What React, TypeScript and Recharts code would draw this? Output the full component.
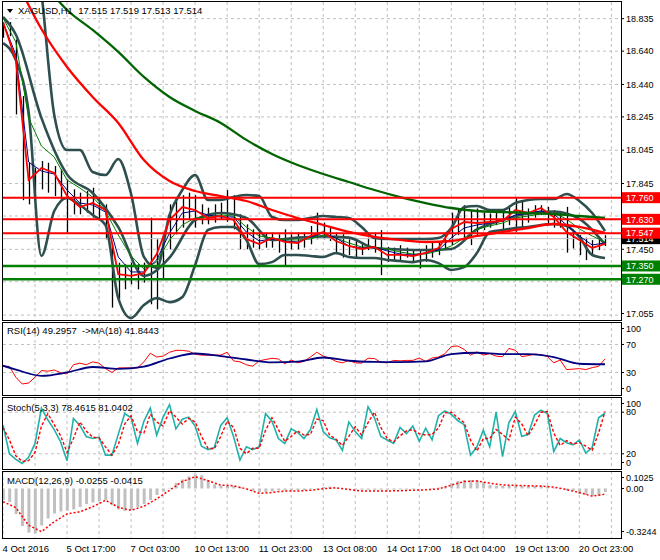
import React from 'react';
import { ComposedChart, Line, Bar, XAxis, YAxis, CartesianGrid, ReferenceLine } from 'recharts';

const FONT = '"Liberation Sans", Arial, sans-serif';

// ---------- texts ----------
const symbolTitle = 'XAGUSD,H1  17.515 17.519 17.513 17.514';
const rsiTitle = 'RSI(14) 49.2957  ->MA(18) 41.8443';
const stochTitle = 'Stoch(5,3,3) 78.4615 81.0402';
const macdTitle = 'MACD(12,26,9) -0.0255 -0.0415';
const dateLabels = ['4 Oct 2016', '5 Oct 17:00', '7 Oct 03:00', '10 Oct 13:00', '11 Oct 23:00', '13 Oct 08:00', '14 Oct 17:00', '18 Oct 04:00', '19 Oct 13:00', '20 Oct 23:00'];

// ---------- axis ticks ----------
const gridTicks = [0, 5, 10, 15, 20, 25, 30, 35, 40, 45, 50, 55, 60, 65, 70, 75, 80, 85, 90, 95];
const priceTicks = [17.055, 17.255, 17.45, 17.65, 17.845, 18.045, 18.245, 18.44, 18.64, 18.835];
const hiddenPriceTicks = [17.255, 17.65];
const rsiTicks = [30, 70];
const rsiEdgeTicks = [0, 100];
const rsiGrid = [30, 70];
const stochTicks = [0, 20, 80, 100];
const stochGrid = [20, 80];
const macdTicks = [-0.3244, 0, 0.1025];

// ---------- levels ----------
const resistance = [17.76, 17.63, 17.547];
const support = [17.35, 17.27];
const lastPrice = 17.514;

// ---------- price bars (one bar per slot) ----------
const highs = [
  18.815, 18.815, 18.71, 18.37, 17.97, 17.94, 17.98, 17.97, 17.95, 17.93,
  17.87, 17.81, 17.79, 17.8, 17.82, 17.76, 17.72, 17.48, 17.37, 17.36,
  17.37, 17.36, 17.37, 17.64, 17.51, 17.54, 17.72, 17.76, 17.775, 17.79,
  17.775, 17.72, 17.7, 17.72, 17.73, 17.805, 17.775, 17.66, 17.6, 17.57,
  17.55, 17.55, 17.55, 17.54, 17.57, 17.54, 17.55, 17.55, 17.59, 17.67,
  17.61, 17.59, 17.55, 17.54, 17.51, 17.51, 17.49, 17.52, 17.55, 17.565,
  17.465, 17.46, 17.475, 17.46, 17.445, 17.445, 17.475, 17.49, 17.49, 17.535,
  17.67, 17.695, 17.715, 17.685, 17.695, 17.67, 17.665, 17.685, 17.67, 17.715,
  17.76, 17.745, 17.695, 17.715, 17.715, 17.705, 17.685, 17.67, 17.705, 17.565,
  17.535, 17.52, 17.505, 17.52, 17.535,
];
const lows = [
  18.72, 18.73, 18.26, 17.745, 17.72, 17.75, 17.81, 17.79, 17.77, 17.75,
  17.55, 17.66, 17.66, 17.67, 17.64, 17.63, 17.51, 17.1, 17.15, 17.21,
  17.24, 17.21, 17.25, 17.12, 17.09, 17.27, 17.45, 17.54, 17.58, 17.63,
  17.58, 17.6, 17.6, 17.61, 17.63, 17.615, 17.57, 17.45, 17.45, 17.46,
  17.45, 17.46, 17.46, 17.43, 17.355, 17.45, 17.45, 17.46, 17.48, 17.51,
  17.51, 17.5, 17.42, 17.4, 17.415, 17.4, 17.415, 17.445, 17.43, 17.295,
  17.375, 17.385, 17.375, 17.4, 17.375, 17.335, 17.375, 17.4, 17.415, 17.445,
  17.475, 17.535, 17.505, 17.475, 17.535, 17.565, 17.58, 17.595, 17.565, 17.595,
  17.555, 17.565, 17.61, 17.64, 17.655, 17.595, 17.58, 17.58, 17.43, 17.455,
  17.415, 17.385, 17.415, 17.445, 17.47,
];

// ---------- fast averages (every 2nd slot) ----------
const fastRed = [
  18.815, 18.587, 17.866, 17.938, 17.908, 17.77, 17.704, 17.728, 17.686, 17.301,
  17.29, 17.307, 17.422, 17.626, 17.704, 17.686, 17.638, 17.65, 17.626, 17.512,
  17.482, 17.518, 17.494, 17.488, 17.53, 17.554, 17.5, 17.47, 17.452, 17.464,
  17.416, 17.416, 17.41, 17.428, 17.458, 17.572, 17.614, 17.608, 17.614, 17.62,
  17.686, 17.668, 17.698, 17.644, 17.554, 17.506, 17.458, 17.482,
];
const fastBlue = [
  18.815, 18.617, 17.974, 17.92, 17.902, 17.806, 17.728, 17.716, 17.674, 17.404,
  17.314, 17.314, 17.386, 17.548, 17.668, 17.68, 17.656, 17.644, 17.644, 17.554,
  17.5, 17.512, 17.5, 17.494, 17.524, 17.548, 17.518, 17.47, 17.458, 17.464,
  17.44, 17.422, 17.416, 17.428, 17.446, 17.518, 17.578, 17.596, 17.608, 17.62,
  17.656, 17.668, 17.68, 17.662, 17.596, 17.53, 17.476, 17.488,
];
const fastGreen = [
  18.839, 18.695, 18.239, 18.07, 18.004, 17.866, 17.818, 17.764, 17.68, 17.536,
  17.41, 17.332, 17.374, 17.506, 17.596, 17.638, 17.644, 17.656, 17.65, 17.584,
  17.53, 17.518, 17.506, 17.506, 17.512, 17.536, 17.518, 17.488, 17.464, 17.464,
  17.452, 17.434, 17.422, 17.422, 17.44, 17.47, 17.518, 17.572, 17.59, 17.608,
  17.638, 17.65, 17.662, 17.668, 17.632, 17.572, 17.53, 17.494,
];
const bbUpper = [
  19.1, 19.4, 19.5, 18.99, 18.257, 18.046, 18.046, 17.914, 17.896, 17.992,
  17.782, 17.404, 17.338, 17.656, 17.806, 17.896, 17.746, 17.746, 17.764, 17.776,
  17.77, 17.644, 17.626, 17.626, 17.638, 17.65, 17.644, 17.638, 17.584, 17.518,
  17.512, 17.512, 17.512, 17.512, 17.518, 17.578, 17.704, 17.71, 17.686, 17.686,
  17.728, 17.746, 17.752, 17.752, 17.782, 17.74, 17.668, 17.56,
];
const bbLower = [
  18.688, 18.587, 18.275, 17.41, 17.68, 17.758, 17.716, 17.656, 17.596, 17.157,
  17.037, 17.115, 17.157, 17.133, 17.163, 17.355, 17.566, 17.584, 17.584, 17.506,
  17.361, 17.373, 17.416, 17.416, 17.41, 17.404, 17.428, 17.404, 17.398, 17.398,
  17.386, 17.38, 17.373, 17.386, 17.367, 17.326, 17.343, 17.428, 17.554, 17.566,
  17.578, 17.584, 17.596, 17.602, 17.59, 17.524, 17.416, 17.398,
];

// ---------- slow series (sampled at slowIdx slots) ----------
const slowIdx = [0, 2, 6, 10, 14, 18, 22, 26, 30, 34, 38, 42, 46, 50, 54, 58, 62, 66, 70, 74, 78, 82, 86, 90, 94];
const bbMiddle = [
  18.845, 18.74, 18.239, 17.9, 17.788, 17.583, 17.29, 17.4, 17.626, 17.668,
  17.638, 17.506, 17.52, 17.527, 17.52, 17.458, 17.449, 17.446, 17.452, 17.569,
  17.626, 17.665, 17.677, 17.632, 17.479,
];
const slowRedMA = [
  19.23, 19.07, 18.773, 18.545, 18.365, 18.209, 17.986, 17.86, 17.8, 17.77,
  17.74, 17.686, 17.638, 17.596, 17.554, 17.524, 17.506, 17.494, 17.5, 17.53,
  17.554, 17.578, 17.602, 17.584, 17.548,
];
const slowGreenMA = [
  19.37, 19.22, 19.06, 18.887, 18.767, 18.635, 18.485, 18.365, 18.281, 18.209,
  18.107, 18.022, 17.956, 17.902, 17.854, 17.806, 17.764, 17.728, 17.698, 17.68,
  17.674, 17.668, 17.662, 17.65, 17.638,
];
const rsiMA = [
  39.7, 34.2, 25.3, 30.1, 37.9, 35.2, 38.4, 50.0, 57.1, 53.4,
  48.6, 44.5, 45.6, 51.4, 46.8, 45.2, 44.8, 45.9, 56.2, 58.2,
  56.2, 56.2, 52.1, 42.5, 41.8,
];

// ---------- oscillators (one value per slot) ----------
const rsi = [
  38.8, 38.8, 23.3, 13.7, 15.1, 23.3, 32.9, 31.9, 33.6, 29.7,
  28, 41.1, 43.4, 41.1, 45.2, 43.4, 35.6, 30.1, 36.6, 36.6,
  36.6, 36.6, 45.2, 57.5, 52.1, 53.4, 58.9, 61.6, 61.6, 60.3,
  56.2, 54.8, 54.8, 54.8, 54.8, 58.9, 46.6, 45.2, 41.1, 39.0,
  46.6, 48.6, 50.3, 49.3, 42.5, 47.9, 43.8, 45.9, 52.1, 58.9,
  53.4, 50.7, 45.9, 43.8, 47.3, 43.8, 43.4, 50.3, 50.0, 44.5,
  43.8, 47.3, 46.6, 47.3, 47.3, 50.7, 45.9, 50.7, 52.1, 56.8,
  67.1, 67.8, 63.0, 54.8, 59.3, 54.8, 57.1, 53.4, 52.5, 64.4,
  61.6, 52.7, 54.1, 56.2, 55.5, 52.7, 43.8, 47.9, 34.2, 34.9,
  35.6, 34.2, 37.0, 38.8, 49.3,
];
const stochK = [
  61.5, 20, 12, 6, 15, 35, 86, 69, 55, 37,
  10, 71, 61, 45, 42, 44, 18, 18, 48, 78,
  72, 35, 67, 86, 47, 73, 91, 56, 70, 73,
  60, 31, 26, 29, 61, 72, 45, 11, 30, 26,
  30, 78, 67, 42, 35, 56, 51, 42, 55, 84,
  52, 43, 40, 25, 66, 52, 42, 88, 72, 45,
  40, 35, 58, 49, 60, 38, 57, 40, 75, 82,
  77, 68, 62, 18, 30, 54, 30, 80, 16, 65,
  81, 45, 48, 76, 83, 78, 23, 42, 36, 33,
  40, 21, 29, 72, 78.5,
];
const stochD = [
  58, 40, 17, 9, 10, 22, 60, 78, 62, 46,
  22, 42, 66, 53, 44, 43, 30, 18, 33, 63,
  75, 52, 50, 77, 66, 60, 82, 73, 63, 71,
  66, 45, 28, 27, 45, 67, 58, 28, 20, 28,
  28, 54, 72, 55, 38, 45, 53, 47, 48, 70,
  68, 47, 41, 32, 45, 59, 47, 65, 80, 58,
  42, 37, 46, 53, 55, 49, 47, 48, 57, 79,
  80, 72, 65, 40, 24, 42, 42, 55, 48, 40,
  73, 63, 46, 62, 80, 81, 50, 32, 39, 34,
  36, 31, 25, 50, 81.04,
];
const macdHist = [
  -0.083, -0.097, -0.184, -0.27, -0.318, -0.3244, -0.267, -0.216, -0.18, -0.166,
  -0.16, -0.151, -0.133, -0.112, -0.101, -0.09, -0.083, -0.119, -0.151, -0.162,
  -0.155, -0.133, -0.112, -0.083, -0.047, -0.023, 0.004, 0.04, 0.065, 0.088,
  0.1025, 0.095, 0.062, 0.03, 0.02, 0.02, 0.018, 0.011, -0.004, -0.018,
  -0.027, -0.025, -0.02, -0.013, -0.013, -0.013, -0.011, -0.011, -0.004, 0.004,
  0.011, 0.013, 0.004, 0.0, -0.004, -0.009, -0.009, -0.009, -0.009, -0.009,
  -0.009, -0.009, -0.007, -0.006, -0.004, -0.001, 0.001, 0.004, 0.007, 0.011,
  0.037, 0.054, 0.061, 0.061, 0.058, 0.047, 0.025, 0.02, 0.02, 0.02,
  0.02, 0.02, 0.02, 0.02, 0.02, 0.014, 0.006, -0.004, -0.014, -0.018,
  -0.04, -0.047, -0.054, -0.05, -0.0255,
];
const macdSignal = [
  -0.095, -0.138, -0.265, -0.311, -0.24, -0.183, -0.168, -0.132, -0.085, -0.135,
  -0.158, -0.128, -0.075, -0.013, 0.05, 0.085, 0.056, 0.024, 0.02, -0.003,
  -0.035, -0.029, -0.018, -0.018, -0.013, -0.002, 0.005, -0.007, -0.018, -0.018,
  -0.018, -0.016, -0.012, -0.01, -0.003, 0.024, 0.05, 0.054, 0.038, 0.025,
  0.022, 0.02, 0.017, 0.01, -0.008, -0.03, -0.055, -0.0415,
];

// ---------- build tables ----------
const slowPos = new Map<number, number>(slowIdx.map((b, k) => [b, k]));
const every2 = (arr: number[], i: number) => (i % 2 === 0 ? arr[i / 2] : null);
const slow = (arr: number[], i: number) => {
  const k = slowPos.get(i);
  return k === undefined ? null : arr[k];
};

const priceRows = highs.map((h, i) => ({
  i,
  hl: [lows[i], h],
  fr: every2(fastRed, i),
  fb: every2(fastBlue, i),
  fg: every2(fastGreen, i),
  bu: every2(bbUpper, i),
  bl: every2(bbLower, i),
  bm: slow(bbMiddle, i),
  mr: slow(slowRedMA, i),
  mg: slow(slowGreenMA, i),
}));
const rsiRows = rsi.map((v, i) => ({ i, r: v, ma: slow(rsiMA, i) }));
const stochRows = stochK.map((v, i) => ({ i, k: v, d: stochD[i] }));
const macdRows = macdHist.map((v, i) => ({ i, m: v, s: every2(macdSignal, i) }));

// ---------- layout ----------
const W = 660;
const AXIS_W = 39;
const LEFT = 3;
const AXIS_X = W - AXIS_W;
const X_DOMAIN: [number, number] = [0, 96.5];
const MAIN = { top: 2, h: 318 };
const RSI = { top: 322, h: 73 };
const STO = { top: 397, h: 72 };
const MAC = { top: 471, h: 67 };
const DATE_H = 22;
const GRID = '#c0c0c0';
const OSC_DOMAIN: [number, number] = [-2, 102];

const fmtPrice = (v: number) => v.toFixed(3);
const fmtInt = (v: number) => String(v);
const fmtMacd = (v: number) => (v === 0 ? '0.00' : String(v));

const clampY = (y: number, paneH: number) => Math.max(6.5, Math.min(paneH - 6.5, y));
const oscY = (v: number, paneH: number) => ((OSC_DOMAIN[1] - v) / (OSC_DOMAIN[1] - OSC_DOMAIN[0])) * paneH;

const AxisLabel = ({ y, text }: { y: number; text: string }) => (
  <g>
    <line x1={AXIS_X} x2={AXIS_X + 3} y1={y} y2={y} stroke="#000" />
    <text x={AXIS_X + 5} y={y + 3.2} fontSize={9} fontFamily={FONT} fill="#000">
      {text}
    </text>
  </g>
);

function axisTick(paneH: number, fmt: (v: number) => string, skip: number[] = []) {
  return (props: any) => {
    const { y, payload } = props;
    const v = payload.value;
    if (skip.includes(v)) return <g />;
    return <AxisLabel y={clampY(y, paneH)} text={fmt(v)} />;
  };
}

const PriceBar = (props: any) => {
  const { x, y, width, height } = props;
  if (x == null || y == null) return <g />;
  const cx = Math.round(x + width / 2) + 0.5;
  const top = Math.min(y, y + height);
  const h = Math.abs(height);
  return <line x1={cx} x2={cx} y1={top} y2={top + Math.max(h, 1)} stroke="#000" strokeWidth={1.3} />;
};

const levelTag = (bg: string, text: string) => (props: any) => {
  const vb = props.viewBox || {};
  const y = vb.y;
  return (
    <g>
      <rect x={AXIS_X + 1} y={y - 5.5} width={W - AXIS_X - 1} height={11} fill={bg} />
      <text x={AXIS_X + 5} y={y + 3.3} fontSize={9} fontFamily={FONT} fill="#fff">
        {text}
      </text>
    </g>
  );
};

const DateTick = (props: any) => {
  const { x, payload } = props;
  const v = payload.value;
  if (v % 10 !== 0) return <g />;
  const label = dateLabels[v / 10];
  if (!label) return <g />;
  return (
    <text x={x - 0.5} y={MAC.h + 13.5} fontSize={9.5} fontFamily={FONT} fill="#000">
      {label}
    </text>
  );
};

const lineProps = { dot: false, activeDot: false, connectNulls: true, isAnimationActive: false } as const;

const paneStyle = (top: number): React.CSSProperties => ({ position: 'absolute', left: 0, top });
const borderStyle = (top: number, h: number): React.CSSProperties => ({
  position: 'absolute',
  left: 2,
  top,
  width: AXIS_X - 1,
  height: h,
  border: '1px solid #000',
  boxSizing: 'border-box',
  pointerEvents: 'none',
});

export default function App() {
  return (
    <div style={{ position: 'absolute', left: 0, top: 0, width: W, height: 560, background: '#fff', overflow: 'hidden' }}>
      {/* main price pane */}
      <div style={paneStyle(MAIN.top)}>
        <ComposedChart width={W} height={MAIN.h} data={priceRows} margin={{ top: 0, right: 0, bottom: 0, left: LEFT }}>
          <CartesianGrid stroke={GRID} strokeDasharray="3 3" verticalValues={gridTicks} horizontalValues={priceTicks} />
          <XAxis type="number" dataKey="i" domain={X_DOMAIN} ticks={gridTicks} allowDataOverflow hide />
          <YAxis
            orientation="right"
            width={AXIS_W}
            type="number"
            domain={[17.0255, 18.935]}
            ticks={priceTicks}
            interval={0}
            allowDataOverflow
            axisLine={false}
            tickLine={false}
            tick={axisTick(MAIN.h, fmtPrice, hiddenPriceTicks)}
          />
          <ReferenceLine y={lastPrice} stroke="#c0c0c0" strokeWidth={1} label={{ content: levelTag('#000', fmtPrice(lastPrice)) } as any} />
          <Bar dataKey="hl" barSize={1} shape={(p: any) => <PriceBar {...p} />} isAnimationActive={false} />
          <Line type="monotone" dataKey="bu" stroke="#2f4f4f" strokeWidth={2.6} {...lineProps} />
          <Line type="monotone" dataKey="bl" stroke="#2f4f4f" strokeWidth={2.6} {...lineProps} />
          <Line type="monotone" dataKey="bm" stroke="#2f4f4f" strokeWidth={2.6} {...lineProps} />
          <Line type="linear" dataKey="fg" stroke="#008000" strokeWidth={1} {...lineProps} />
          <Line type="linear" dataKey="fb" stroke="#000080" strokeWidth={1} {...lineProps} />
          <Line type="linear" dataKey="fr" stroke="#ff0000" strokeWidth={1.8} {...lineProps} />
          <Line type="monotone" dataKey="mr" stroke="#ff0000" strokeWidth={2.3} {...lineProps} />
          <Line type="monotone" dataKey="mg" stroke="#006400" strokeWidth={2.3} {...lineProps} />
          {resistance.map((v) => (
            <ReferenceLine key={'r' + v} y={v} stroke="#ff0000" strokeWidth={2} label={{ content: levelTag('#ff0000', fmtPrice(v)) } as any} />
          ))}
          {support.map((v) => (
            <ReferenceLine key={'s' + v} y={v} stroke="#008000" strokeWidth={2.6} label={{ content: levelTag('#008000', fmtPrice(v)) } as any} />
          ))}
        </ComposedChart>
      </div>

      {/* RSI pane */}
      <div style={paneStyle(RSI.top)}>
        <ComposedChart width={W} height={RSI.h} data={rsiRows} margin={{ top: 0, right: 0, bottom: 0, left: LEFT }}>
          <CartesianGrid stroke={GRID} strokeDasharray="3 3" verticalValues={gridTicks} horizontalValues={rsiGrid} />
          <XAxis type="number" dataKey="i" domain={X_DOMAIN} ticks={gridTicks} allowDataOverflow hide />
          <YAxis
            orientation="right"
            width={AXIS_W}
            type="number"
            domain={OSC_DOMAIN}
            ticks={rsiTicks}
            interval={0}
            allowDataOverflow
            axisLine={false}
            tickLine={false}
            tick={axisTick(RSI.h, fmtInt)}
          />
          <Line type="linear" dataKey="r" stroke="#ff0000" strokeWidth={1} {...lineProps} />
          <Line type="monotone" dataKey="ma" stroke="#000080" strokeWidth={1.8} {...lineProps} />
        </ComposedChart>
      </div>

      {/* Stochastic pane */}
      <div style={paneStyle(STO.top)}>
        <ComposedChart width={W} height={STO.h} data={stochRows} margin={{ top: 0, right: 0, bottom: 0, left: LEFT }}>
          <CartesianGrid stroke={GRID} strokeDasharray="3 3" verticalValues={gridTicks} horizontalValues={stochGrid} />
          <XAxis type="number" dataKey="i" domain={X_DOMAIN} ticks={gridTicks} allowDataOverflow hide />
          <YAxis
            orientation="right"
            width={AXIS_W}
            type="number"
            domain={OSC_DOMAIN}
            ticks={stochTicks}
            interval={0}
            allowDataOverflow
            axisLine={false}
            tickLine={false}
            tick={axisTick(STO.h, fmtInt)}
          />
          <Line type="linear" dataKey="k" stroke="#20b2aa" strokeWidth={1.6} {...lineProps} />
          <Line type="linear" dataKey="d" stroke="#ff0000" strokeWidth={1.4} strokeDasharray="3 2" {...lineProps} />
        </ComposedChart>
      </div>

      {/* MACD pane + date axis */}
      <div style={paneStyle(MAC.top)}>
        <ComposedChart width={W} height={MAC.h + DATE_H} data={macdRows} margin={{ top: 0, right: 0, bottom: 0, left: LEFT }}>
          <CartesianGrid stroke={GRID} strokeDasharray="3 3" verticalValues={gridTicks} horizontal={false} />
          <XAxis
            type="number"
            dataKey="i"
            domain={X_DOMAIN}
            ticks={gridTicks}
            allowDataOverflow
            height={DATE_H}
            axisLine={false}
            tickLine={false}
            interval={0}
            tick={(p: any) => <DateTick {...p} />}
          />
          <YAxis
            orientation="right"
            width={AXIS_W}
            type="number"
            domain={[-0.357, 0.126]}
            ticks={macdTicks}
            interval={0}
            allowDataOverflow
            axisLine={false}
            tickLine={false}
            tick={axisTick(MAC.h, fmtMacd)}
          />
          <Bar dataKey="m" fill="#c0c0c0" barSize={3} isAnimationActive={false} />
          <Line type="linear" dataKey="s" stroke="#ff0000" strokeWidth={1.5} strokeDasharray="2 2" {...lineProps} />
        </ComposedChart>
      </div>

      {/* pane frames */}
      <div style={borderStyle(1, 320)} />
      <div style={borderStyle(322, 74)} />
      <div style={borderStyle(397, 73)} />
      <div style={borderStyle(471, 68)} />

      {/* titles and RSI edge labels */}
      <svg width={W} height={560} style={{ position: 'absolute', left: 0, top: 0, pointerEvents: 'none' }}>
        <polygon points="7,9 13,9 10,13" fill="#000" />
        <text x={18} y={13.5} fontSize={9.5} fontFamily={FONT} fill="#000" xmlSpace="preserve">
          {symbolTitle}
        </text>
        <text x={7} y={334} fontSize={9.5} fontFamily={FONT} fill="#000" xmlSpace="preserve">
          {rsiTitle}
        </text>
        <text x={7} y={410.5} fontSize={9.5} fontFamily={FONT} fill="#000" xmlSpace="preserve">
          {stochTitle}
        </text>
        <text x={7} y={484} fontSize={9.5} fontFamily={FONT} fill="#000" xmlSpace="preserve">
          {macdTitle}
        </text>
        {rsiEdgeTicks.map((v) => (
          <AxisLabel key={'rsi' + v} y={RSI.top + clampY(oscY(v, RSI.h), RSI.h)} text={fmtInt(v)} />
        ))}
      </svg>
    </div>
  );
}
